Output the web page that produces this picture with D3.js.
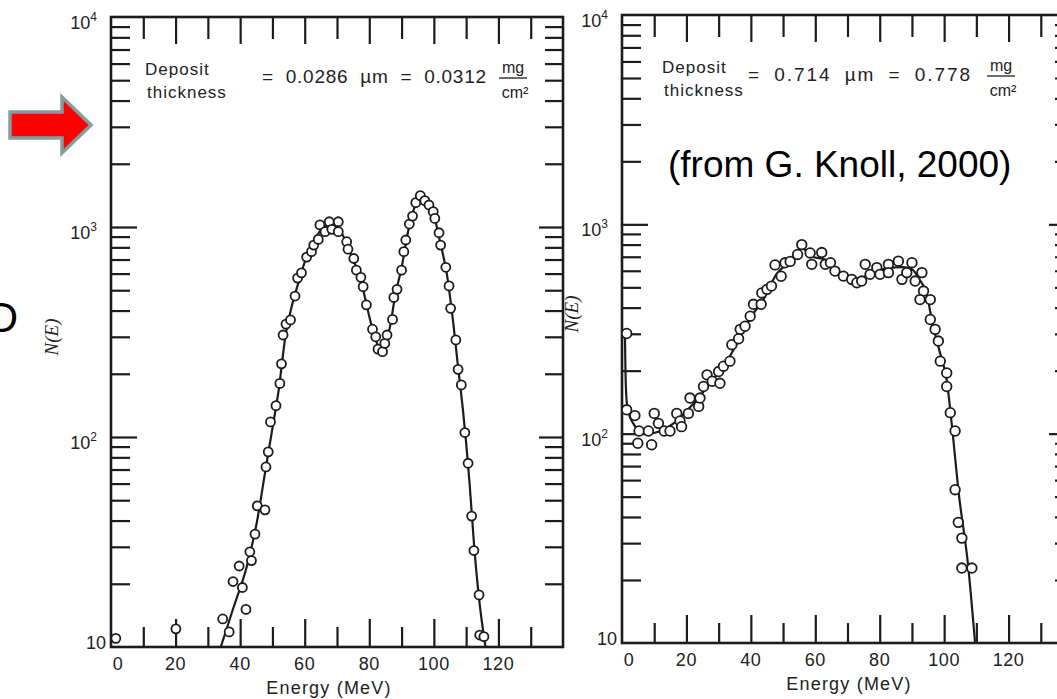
<!DOCTYPE html>
<html>
<head>
<meta charset="utf-8">
<script src="https://cdn.jsdelivr.net/npm/d3@7"></script>
<style>
body { margin: 0; background: #fff; }
svg text { font-family: "Liberation Sans", Arial, sans-serif; fill: #222; }
.tick line { stroke: #1c1c1c; stroke-width: 2.2; }
</style>
</head>
<body>
<svg id="chart" width="1057" height="699"></svg>
<script>
// left panel: deposit 0.0286 um, measured points
var leftEnergy = [1.5, 20.1, 34.6, 36.6, 37.8, 39.7, 40.7, 41.8, 43, 43.5, 44.6, 45.3, 47.7, 48, 48.7, 49.4, 51.1, 52.3, 52.8, 53.3,
    54.2, 55.6, 57, 57.8, 59, 60.6, 62.1, 62.8, 64.2, 64.7, 66.3, 67.6, 68.4, 70.4, 70.4, 73, 73.4, 75.2, 76, 77.4,
    78.1, 79.1, 81, 82, 82.7, 84.1, 84.8, 85.5, 87.2, 87.6, 88.6, 90, 90.7, 91.3, 92.4, 93.4, 94.4, 95.8, 97.2, 98.5,
    99.8, 100.3, 101.6, 102.1, 103.7, 104.7, 105.2, 106.8, 107.5, 108.5, 109.6, 110.6, 111.7, 112.4, 114, 114.2, 115.5];
var leftCounts = [11, 12.2, 13.6, 11.8, 20.5, 24.3, 19.2, 15.1, 28.4, 25.8, 34.5, 47, 45, 72, 85, 118, 141, 180, 223, 306,
    345, 361, 469, 571, 605, 719, 763, 820, 873, 1023, 950, 1059, 975, 1059, 950, 851, 784, 708, 623, 576,
    520, 426, 326, 300, 262, 255, 279, 306, 363, 462, 505, 623, 763, 867, 1033, 1127, 1306, 1410, 1335, 1273,
    1183, 1099, 939, 820, 643, 524, 410, 290, 210, 177, 105, 75, 42, 28.8, 17.7, 11.4, 11.2];
// left panel: drawn curve
var leftFitEnergy = [34, 38, 42, 45, 48, 50, 52, 54, 56, 58, 60, 62, 64, 66, 68, 70, 72, 74, 76, 78,
    80, 82, 83.5, 85, 86.5, 88, 90, 92, 94, 96, 98, 100, 102, 104, 106, 107.5, 109, 111, 112.5, 114, 116];
var leftFitCounts = [10, 15.5, 24, 38, 72, 110, 170, 300, 420, 540, 680, 800, 920, 1000, 1020, 1000, 900, 760, 640, 510,
    375, 290, 260, 280, 340, 470, 640, 950, 1240, 1390, 1310, 1140, 840, 600, 350, 215, 135, 62, 30, 17, 10];

// right panel: deposit 0.714 um, measured points
var rightEnergy = [1.45, 1.45, 4, 5.3, 8.2, 4.9, 9.2, 10, 11.3, 13.1, 14.9, 17, 18, 18.5, 20.6, 21.1, 23.8, 24.2, 25.3, 26.4,
    28, 30, 30.4, 31.5, 33.5, 34.1, 36.2, 36.7, 38.2, 39.8, 40.8, 43.2, 43.4, 45, 46.4, 47.5, 49.4, 50.6, 52.2, 54.5,
    55.8, 58.4, 58.9, 62, 63.1, 64.7, 66.1, 68.7, 71.3, 72.9, 74.4, 75.5, 77, 79.1, 80.1, 82.7, 82.7, 85.8, 86.9, 88.4,
    90, 91, 93.1, 93.6, 92.5, 95.7, 95.7, 97.2, 98.2, 98.8, 100.8, 100.8, 101.9, 103.4, 103.4, 104.4, 105.5, 105.5, 108.6];
var rightCounts = [301, 130, 122, 103, 103, 90, 88.5, 125, 112, 103, 103, 125, 115, 108, 125, 148, 135, 148, 168, 191,
    178, 198, 174, 210, 222, 266, 284, 315, 326, 364, 415, 415, 470, 489, 507, 640, 565, 655, 665, 718,
    800, 730, 644, 733, 644, 656, 598, 566, 546, 526, 536, 644, 577, 621, 577, 644, 588, 667, 546, 588,
    656, 536, 588, 480, 437, 437, 351, 315, 277, 222, 195, 168, 126, 103, 54, 37.7, 31.7, 22.8, 22.8];
var rightFitEnergy = [0.9, 1.1, 1.5, 2.3, 3.5, 5, 8, 12, 16, 20, 24, 28, 32, 36, 40, 44, 48, 52, 55.8, 59,
    63, 67, 71, 75, 79, 83, 87, 90, 92.5, 94.5, 96.5, 98.5, 100.8, 102.4, 104.4, 107.5, 109.6];
var rightFitCounts = [300, 190, 140, 122, 112, 104, 100, 103, 112, 128, 150, 180, 215, 275, 360, 440, 580, 660, 770, 700,
    680, 580, 545, 560, 600, 620, 625, 610, 540, 470, 330, 250, 180, 110, 54, 23, 10];

var xMinorTicks = [10, 30, 50, 70, 90, 110, 130];
var xMajorTicks = [20, 40, 60, 80, 100, 120];
var xLabels = [0, 20, 40, 60, 80, 100, 120];
var yLabelValues = [10, 100, 1000, 10000];
var yLabelExp = ["", "2", "3", "4"];

var svg = d3.select("#chart");

function drawPanel(p) {
    var x = d3.scaleLinear().domain([0, 140]).range([p.left, p.right]);
    var y = d3.scaleLog().domain([10, 10000]).range([p.bottom, p.top]);
    var g = svg.append("g");

    var yTicks = y.ticks().filter(function(d) { return d > 10 && d < 10000; });
    var decades = yTicks.filter(function(d) { return Math.abs(Math.log10(d) % 1) < 1e-9; });
    var minors = yTicks.filter(function(d) { return decades.indexOf(d) < 0; });

    // inner ticks on all four sides
    g.append("g").attr("transform", "translate(0," + p.bottom + ")")
        .call(d3.axisBottom(x).tickValues(xMinorTicks).tickSize(-20).tickFormat(""));
    g.append("g").attr("transform", "translate(0," + p.bottom + ")")
        .call(d3.axisBottom(x).tickValues(xMajorTicks).tickSize(-28).tickFormat(""));
    g.append("g").attr("transform", "translate(0," + p.top + ")")
        .call(d3.axisTop(x).tickValues(xMinorTicks).tickSize(-22).tickFormat(""));
    g.append("g").attr("transform", "translate(0," + p.top + ")")
        .call(d3.axisTop(x).tickValues(xMajorTicks).tickSize(-27).tickFormat(""));
    g.append("g").attr("transform", "translate(" + p.left + ",0)")
        .call(d3.axisLeft(y).tickValues(minors).tickSize(-19).tickFormat(""));
    g.append("g").attr("transform", "translate(" + p.left + ",0)")
        .call(d3.axisLeft(y).tickValues(decades).tickSize(-26).tickFormat(""));
    g.append("g").attr("transform", "translate(" + p.right + ",0)")
        .call(d3.axisRight(y).tickValues(minors).tickSize(-18).tickFormat(""));
    g.append("g").attr("transform", "translate(" + p.right + ",0)")
        .call(d3.axisRight(y).tickValues(decades).tickSize(-24).tickFormat(""));
    g.selectAll(".domain").remove();

    g.append("rect")
        .attr("x", p.left).attr("y", p.top)
        .attr("width", p.right - p.left).attr("height", p.bottom - p.top)
        .attr("fill", "none").attr("stroke", "#1c1c1c").attr("stroke-width", 2.6);

    // x labels
    g.selectAll(".xlab").data(xLabels).enter().append("text")
        .attr("x", function(d) { return x(d) + (d === 0 ? 7 : 0); })
        .attr("y", p.bottom + 23)
        .attr("text-anchor", "middle")
        .style("font-size", "18px").style("letter-spacing", "0.6px")
        .text(function(d) { return d; });

    // y labels 10, 10^2, 10^3, 10^4
    yLabelValues.forEach(function(v, i) {
        var t = g.append("text")
            .attr("text-anchor", "end")
            .style("font-size", "18px")
            .attr("x", p.left - (yLabelExp[i] ? 14 : 5))
            .attr("y", y(v) + (yLabelExp[i] ? 12 : 2));
        t.append("tspan").text("10");
        if (yLabelExp[i]) {
            t.append("tspan").attr("dy", -8).style("font-size", "12px").text(yLabelExp[i]);
        }
    });

    g.append("text")
        .attr("x", p.titleX)
        .attr("y", p.bottom + 47)
        .attr("text-anchor", "middle")
        .style("font-size", "18px").style("letter-spacing", "1.2px")
        .text("Energy (MeV)");

    g.append("text")
        .attr("transform", "translate(" + p.nx + "," + p.ny + ") rotate(-90)")
        .attr("text-anchor", "middle")
        .style("font-family", "'Liberation Serif', serif")
        .style("font-style", "italic")
        .style("font-size", "19px")
        .text("N(E)");

    // deposit annotation
    g.append("text").attr("x", p.depX).attr("y", p.top + 58)
        .style("font-size", "17px").style("letter-spacing", "1px").text("Deposit");
    g.append("text").attr("x", p.depX + 2).attr("y", p.top + 81)
        .style("font-size", "17px").style("letter-spacing", "1px").text("thickness");
    g.append("text").attr("x", p.eqX).attr("y", p.top + 66)
        .attr("textLength", p.eqLen).attr("lengthAdjust", "spacing")
        .style("font-size", "19px").style("word-spacing", "6px").text(p.eqText);
    g.append("text").attr("x", p.fracX).attr("y", p.top + 56)
        .attr("text-anchor", "middle").style("font-size", "16px").text("mg");
    g.append("line").attr("x1", p.fracX - 14).attr("x2", p.fracX + 14)
        .attr("y1", p.top + 61).attr("y2", p.top + 61)
        .attr("stroke", "#1c1c1c").attr("stroke-width", 1.3);
    g.append("text").attr("x", p.fracX + 2).attr("y", p.top + 81)
        .attr("text-anchor", "middle").style("font-size", "16px").text("cm\u00b2");

    // fitted curve then open circles
    var fit = p.fitE.map(function(e, i) { return [e, p.fitN[i]]; });
    g.append("path")
        .datum(fit)
        .attr("fill", "none").attr("stroke", "#1c1c1c").attr("stroke-width", 2.2)
        .attr("d", d3.line()
            .x(function(d) { return x(d[0]); })
            .y(function(d) { return y(d[1]); })
            .curve(d3.curveMonotoneX));

    var pts = p.ptE.map(function(e, i) { return [e, p.ptN[i]]; });
    g.selectAll(".pt").data(pts).enter().append("circle")
        .attr("cx", function(d) { return x(d[0]); })
        .attr("cy", function(d) { return y(d[1]); })
        .attr("r", p.r)
        .attr("fill", "#fff").attr("stroke", "#1c1c1c").attr("stroke-width", 1.8);
}

drawPanel({
    left: 111, right: 563, top: 17, bottom: 647, titleX: 329,
    nx: 58, ny: 337, depX: 145, eqX: 262, eqLen: 224, fracX: 513,
    eqText: "= 0.0286 \u00b5m = 0.0312",
    fitE: leftFitEnergy, fitN: leftFitCounts, ptE: leftEnergy, ptN: leftCounts, r: 4.5
});
drawPanel({
    left: 622, right: 1073, top: 15, bottom: 643, titleX: 849,
    nx: 578, ny: 314, depX: 662, eqX: 748, eqLen: 222, fracX: 1001,
    eqText: "= 0.714 \u00b5m = 0.778",
    fitE: rightFitEnergy, fitN: rightFitCounts, ptE: rightEnergy, ptN: rightCounts, r: 4.8
});

// slide overlay: source note, arrow, clipped letter
svg.append("text")
    .attr("x", 668).attr("y", 177)
    .style("font-size", "37px")
    .style("fill", "#000")
    .text("(from G. Knoll, 2000)");

svg.append("path")
    .attr("d", "M10,112 L62,112 L62,97 L91,125 L62,153 L62,138 L10,138 Z")
    .attr("fill", "#ff0000")
    .attr("stroke", "#859c9c")
    .attr("stroke-width", 3.5);

svg.append("text")
    .attr("x", 18).attr("y", 332)
    .attr("text-anchor", "end")
    .style("font-size", "42px")
    .style("fill", "#000")
    .text("D");
</script>
</body>
</html>
